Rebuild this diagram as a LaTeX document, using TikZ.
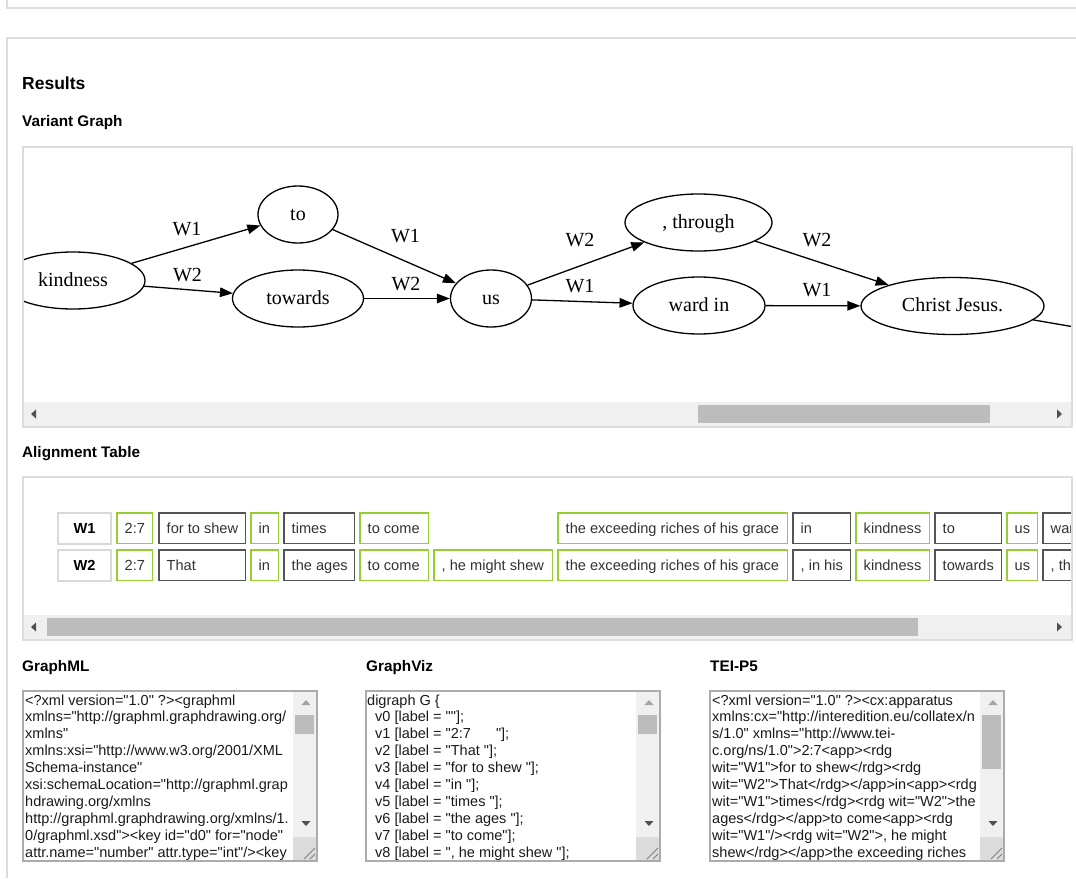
\documentclass[tikz,border=0pt]{standalone}
\usepackage{fontspec}
\setmainfont{Liberation Sans}
\setmonofont{Liberation Sans}
\newfontfamily\gvfont{Liberation Serif}
\usetikzlibrary{shapes.geometric,arrows.meta}
\definecolor{panelgray}{HTML}{DDDDDD}
\definecolor{cellgreen}{HTML}{9ACD32}
\definecolor{celldark}{HTML}{555555}
\definecolor{hdrgray}{HTML}{D9D9D9}
\definecolor{trackgray}{HTML}{F0F0F0}
\definecolor{thumbgray}{HTML}{BCBCBC}
\definecolor{arrowdark}{HTML}{505050}
\definecolor{arrowlight}{HTML}{A3A3A3}
\definecolor{areagray}{HTML}{ABABAB}
\definecolor{cornergray}{HTML}{DCDCDC}
\definecolor{celltext}{HTML}{333333}
\definecolor{codetext}{HTML}{1A1A1A}
\tikzset{
  frame/.style={draw=panelgray, line width=1.5pt},
  hd/.style={anchor=base west, inner sep=0pt, font=\bfseries\fontsize{15.3}{18}\selectfont},
  gnode/.style={ellipse, draw, line width=1.3pt, inner sep=0pt, text height=14pt, text depth=3pt, font=\gvfont\fontsize{20}{24}\selectfont},
  glabel/.style={inner sep=0pt, text height=14pt, text depth=3pt, font=\gvfont\fontsize{20}{24}\selectfont},
  garrow/.style={line width=1.3pt, -{Triangle[length=13pt,width=9.5pt]}},
  cellbox/.style={rectangle, draw, line width=1.5pt, anchor=north west, minimum height=30.5pt, inner sep=0pt, text height=13pt, text depth=3pt},
  celltxt/.style={anchor=west, inner sep=0pt, text=celltext, text height=13pt, text depth=3pt, font=\fontsize{14.6}{17}\selectfont},
  hdrbox/.style={cellbox, draw=hdrgray, line width=2pt, font=\bfseries\fontsize{14.6}{17}\selectfont},
  codeline/.style={anchor=base west, inner sep=0pt, text=codetext, font=\ttfamily\fontsize{14.5}{17}\selectfont},
  areabox/.style={draw=areagray, line width=1.2pt},
}
\newcommand\acell[6]{%
  \node[cellbox, draw=#2, minimum width={#4-#3-1.5}] (#1) at (#3,#5) {};
  \node[celltxt] (#1t) at ([xshift=8.5pt]#1.west) {#6};
}
\newcommand\areachrome[2]{% #1 left x, #2 thumb bottom
  \fill[trackgray] (#1+270,691.6) rectangle (#1+293.4,837);
  \fill[cornergray] (#1+270,837) rectangle (#1+293.4,860.4);
  \fill[thumbgray] (#1+272,715) rectangle (#1+291,#2);
  \fill[arrowlight] (#1+283,700) -- (#1+287.5,705) -- (#1+278.5,705) -- cycle;
  \fill[arrowdark] (#1+283,826) -- (#1+287.5,821) -- (#1+278.5,821) -- cycle;
  \draw[gray, line width=0.8pt] (#1+292,848) -- (#1+281,859) (#1+292,854) -- (#1+287,859);
  \draw[areabox] (#1,691) rectangle (#1+294,861);
}
\begin{document}
\begin{tikzpicture}[x=1pt,y=-1pt]
\useasboundingbox (0,0) rectangle (1076,878);
\fill[white] (0,0) rectangle (1076,878);

% outer page frames
\draw[frame] (7,0) -- (7,8) -- (1076,8);
\draw[frame] (7,878) -- (7,38) -- (1076,38);

% headings
\node[hd, font=\bfseries\fontsize{17.5}{20}\selectfont] (results) at (22,89) {Results};
\node[hd] (hvg) at (22,126) {Variant Graph};
\node[hd] (hat) at (22,457) {Alignment Table};
\node[hd] (hgml) at (22,671) {GraphML};
\node[hd] (hgv) at (366,671) {GraphViz};
\node[hd] (htei) at (710,671) {TEI-P5};

% ---------------- Variant graph panel
\begin{scope}
\clip (24,148) rectangle (1071,402);
\node[gnode, minimum width=144, minimum height=57] (kindness) at (73,280.5) {kindness};
\node[gnode, minimum width=80, minimum height=57] (to) at (298,214.5) {to};
\node[gnode, minimum width=131, minimum height=57] (towards) at (298,298.5) {towards};
\node[gnode, minimum width=81, minimum height=57] (us) at (491,298.5) {us};
\node[gnode, minimum width=147, minimum height=57] (through) at (698.5,222.5) {, through};
\node[gnode, minimum width=132, minimum height=57] (wardin) at (699,305.5) {ward in};
\node[gnode, minimum width=183, minimum height=57] (christ) at (952.5,306) {Christ Jesus.};
\coordinate (beyond) at (1150,340);
\draw[garrow] (kindness) -- (to);
\draw[garrow] (kindness) -- (towards);
\draw[garrow] (to) -- (us);
\draw[garrow] (towards) -- (us);
\draw[garrow] (us) -- (through);
\draw[garrow] (us) -- (wardin);
\draw[garrow] (through) -- (christ);
\draw[garrow] (wardin) -- (christ);
\draw[line width=1.3pt] (christ) -- (beyond);
\node[glabel] (lab1) at (187,229.5) {W1};
\node[glabel] (lab2) at (187.5,275.5) {W2};
\node[glabel] (lab3) at (405.5,237) {W1};
\node[glabel] (lab4) at (406,284.5) {W2};
\node[glabel] (lab5) at (580,240.5) {W2};
\node[glabel] (lab6) at (580,287) {W1};
\node[glabel] (lab7) at (817,241) {W2};
\node[glabel] (lab8) at (817,290.5) {W1};
\end{scope}
\fill[trackgray] (24,402) rectangle (1071,426);
\fill[thumbgray] (698,404.5) rectangle (990,423);
\fill[arrowdark] (31,414) -- (36,409.5) -- (36,418.5) -- cycle;
\fill[arrowdark] (1062,414) -- (1057,409.5) -- (1057,418.5) -- cycle;
\draw[frame] (23,147) rectangle (1072,427);

% ---------------- Alignment table panel
\begin{scope}
\clip (24,478) rectangle (1071,614);
\node[hdrbox, minimum width=53] (hA) at (57,512) {W1};
\node[hdrbox, minimum width=53] (hB) at (57,549) {W2};
\acell{a1}{cellgreen}{116}{153}{512}{2:7}
\acell{b1}{celldark}{158}{246}{512}{for to shew}
\acell{c1}{cellgreen}{250}{279}{512}{in}
\acell{d1}{celldark}{283}{355}{512}{times}
\acell{e1}{cellgreen}{359}{429}{512}{to come}
\acell{g1}{cellgreen}{557}{788}{512}{the exceeding riches of his grace}
\acell{h1}{celldark}{792}{851}{512}{in}
\acell{i1}{cellgreen}{855}{930}{512}{kindness}
\acell{j1}{celldark}{934}{1002}{512}{to}
\acell{k1}{cellgreen}{1006}{1038}{512}{us}
\acell{m1}{celldark}{1042}{1130}{512}{ward in}
\acell{a2}{cellgreen}{116}{153}{549}{2:7}
\acell{b2}{celldark}{158}{246}{549}{That}
\acell{c2}{cellgreen}{250}{279}{549}{in}
\acell{d2}{celldark}{283}{355}{549}{the ages}
\acell{e2}{cellgreen}{359}{429}{549}{to come}
\acell{f2}{cellgreen}{433}{553}{549}{, he might shew}
\acell{g2}{cellgreen}{557}{788}{549}{the exceeding riches of his grace}
\acell{h2}{celldark}{792}{851}{549}{, in his}
\acell{i2}{cellgreen}{855}{930}{549}{kindness}
\acell{j2}{celldark}{934}{1002}{549}{towards}
\acell{k2}{cellgreen}{1006}{1038}{549}{us}
\acell{m2}{celldark}{1042}{1130}{549}{, through}
\end{scope}
\fill[trackgray] (24,615) rectangle (1071,639);
\fill[thumbgray] (47,617.5) rectangle (918,636);
\fill[arrowdark] (31,627) -- (36,622.5) -- (36,631.5) -- cycle;
\fill[arrowdark] (1062,627) -- (1057,622.5) -- (1057,631.5) -- cycle;
\draw[frame] (23,477) rectangle (1072,640);

% ---------------- GraphML textarea
\begin{scope}
\clip (24,692) rectangle (292,860);
\node[codeline] (gml1) at (25,705) {<?xml version="1.0" ?><graphml};
\node[codeline] (gml2) at (25,721.9) {xmlns="http://graphml.graphdrawing.org/};
\node[codeline] (gml3) at (25,738.8) {xmlns"};
\node[codeline] (gml4) at (25,755.7) {xmlns:xsi="http://www.w3.org/2001/XML};
\node[codeline] (gml5) at (25,772.6) {Schema-instance"};
\node[codeline] (gml6) at (25,789.5) {xsi:schemaLocation="http://graphml.grap};
\node[codeline] (gml7) at (25,806.4) {hdrawing.org/xmlns};
\node[codeline] (gml8) at (25,823.3) {http://graphml.graphdrawing.org/xmlns/1.};
\node[codeline] (gml9) at (25,840.2) {0/graphml.xsd"><key id="d0" for="node"};
\node[codeline] (gml10) at (25,857.1) {attr.name="number" attr.type="int"/><key};
\end{scope}
\areachrome{23}{734}

% ---------------- GraphViz textarea
\begin{scope}
\clip (367,692) rectangle (635,860);
\node[codeline] (gv1) at (367,705) {digraph G \{};
\node[codeline] (gv2) at (375,721.9) {v0 [label = ""];};
\node[codeline] (gv3) at (375,738.8) {v1 [label = "2:7\hspace{25pt}"];};
\node[codeline] (gv4) at (375,755.7) {v2 [label = "That "];};
\node[codeline] (gv5) at (375,772.6) {v3 [label = "for to shew "];};
\node[codeline] (gv6) at (375,789.5) {v4 [label = "in "];};
\node[codeline] (gv7) at (375,806.4) {v5 [label = "times "];};
\node[codeline] (gv8) at (375,823.3) {v6 [label = "the ages "];};
\node[codeline] (gv9) at (375,840.2) {v7 [label = "to come"];};
\node[codeline] (gv10) at (375,857.1) {v8 [label = ", he might shew "];};
\end{scope}
\areachrome{366}{734}

% ---------------- TEI-P5 textarea
\begin{scope}
\clip (711,692) rectangle (979,860);
\node[codeline] (tei1) at (712,705) {<?xml version="1.0" ?><cx:apparatus};
\node[codeline] (tei2) at (712,721.9) {xmlns:cx="http://interedition.eu/collatex/n};
\node[codeline] (tei3) at (712,738.8) {s/1.0" xmlns="http://www.tei-};
\node[codeline] (tei4) at (712,755.7) {c.org/ns/1.0">2:7<app><rdg};
\node[codeline] (tei5) at (712,772.6) {wit="W1">for to shew</rdg><rdg};
\node[codeline] (tei6) at (712,789.5) {wit="W2">That</rdg></app>in<app><rdg};
\node[codeline] (tei7) at (712,806.4) {wit="W1">times</rdg><rdg wit="W2">the};
\node[codeline] (tei8) at (712,823.3) {ages</rdg></app>to come<app><rdg};
\node[codeline] (tei9) at (712,840.2) {wit="W1"/><rdg wit="W2">, he might};
\node[codeline] (tei10) at (712,857.1) {shew</rdg></app>the exceeding riches};
\end{scope}
\areachrome{710}{769}
\end{tikzpicture}
\end{document}
